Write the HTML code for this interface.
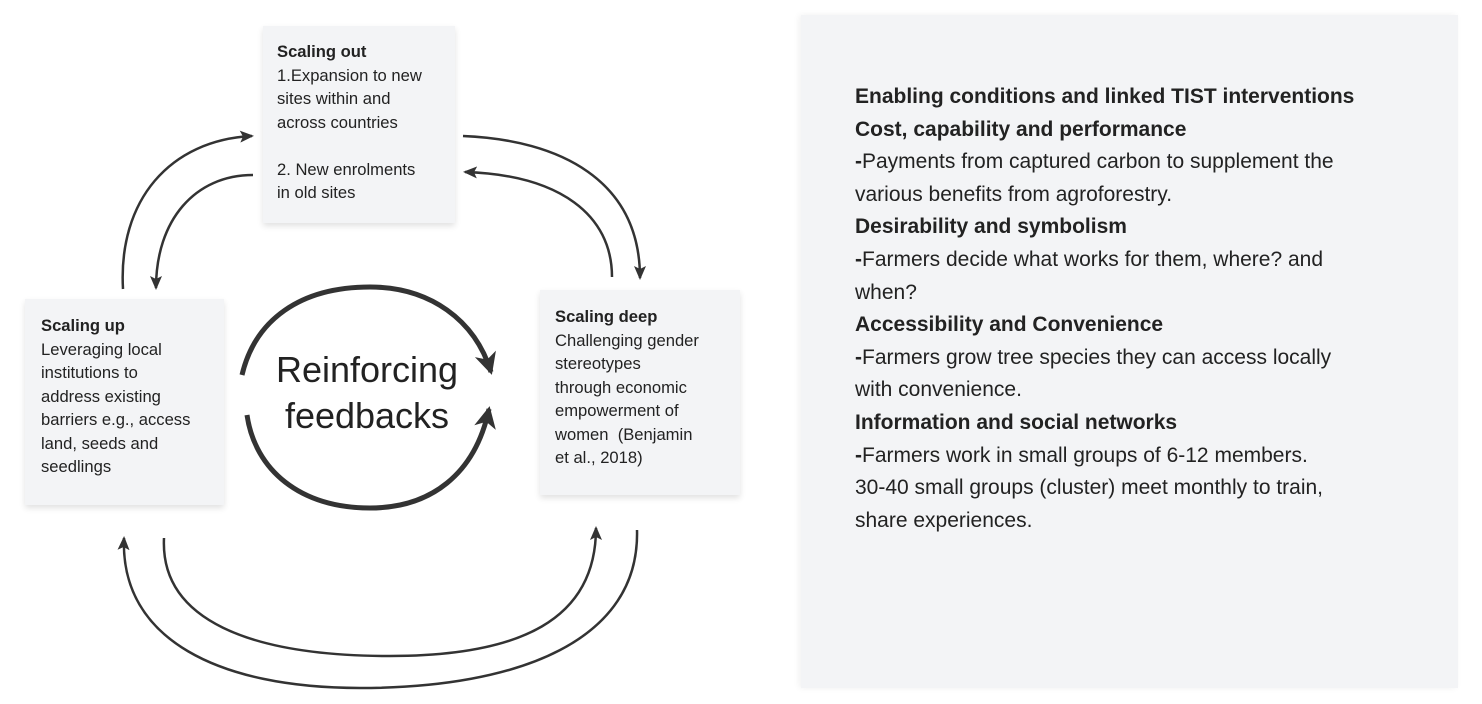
<!DOCTYPE html>
<html><head><meta charset="utf-8"><style>
body{margin:0;width:1482px;height:704px;background:#fff;overflow:hidden;position:relative;font-family:"Liberation Sans",sans-serif;color:#222}
.box{position:absolute;background:#f3f4f6;box-shadow:0 3px 6px rgba(0,0,0,0.12);font-size:16.6px;line-height:23.5px;box-sizing:border-box;white-space:nowrap}
#panel{position:absolute;left:801px;top:15px;width:657px;height:673px;background:#f3f4f6;box-shadow:-2px 0 6px rgba(0,0,0,0.06)}
#ptext{position:absolute;left:855px;top:81px;font-size:21px;line-height:32.6px;color:#222;white-space:nowrap}
svg{position:absolute;left:0;top:0}
</style></head><body>
<div id="panel"></div>
<div id="ptext"><b>Enabling conditions and linked TIST interventions</b><br><b>Cost, capability and performance</b><br><b>-</b>Payments from captured carbon to supplement the<br>various benefits from agroforestry.<br><b>Desirability and symbolism</b><br><b>-</b>Farmers decide what works for them, where? and<br>when?<br><b>Accessibility and Convenience</b><br><b>-</b>Farmers grow tree species they can access locally<br>with convenience.<br><b>Information and social networks</b><br><b>-</b>Farmers work in small groups of 6-12 members.<br>30-40 small groups (cluster) meet monthly to train,<br>share experiences.</div>

<div class="box" style="left:263px;top:26px;width:192px;height:197px;padding:14px 0 0 14px"><b>Scaling out</b><br>1.Expansion to new<br>sites within and<br>across countries<br><br>2. New enrolments<br>in old sites</div>
<div class="box" style="left:25px;top:299px;width:199px;height:206px;padding:15px 0 0 16px"><b>Scaling up</b><br>Leveraging local<br>institutions to<br>address existing<br>barriers e.g., access<br>land, seeds and<br>seedlings</div>
<div class="box" style="left:540px;top:290px;width:200px;height:205px;padding:15px 0 0 15px"><b>Scaling deep</b><br>Challenging gender<br>stereotypes<br>through economic<br>empowerment of<br>women&nbsp; (Benjamin<br>et al., 2018)</div>

<svg width="1482" height="704" viewBox="0 0 1482 704">
<defs>
<marker id="a" markerWidth="14" markerHeight="14" refX="12" refY="7" orient="auto" markerUnits="userSpaceOnUse"><path d="M0,1 L14,7 L0,13 L3,7 Z" fill="#333"/></marker>
<marker id="b" markerWidth="24" markerHeight="24" refX="19" refY="12" orient="auto" markerUnits="userSpaceOnUse"><path d="M0,1 L22,12 L0,23 L6,12 Z" fill="#333"/></marker>
</defs>
<g fill="none" stroke="#333" stroke-width="2.5">
<path d="M123,289 C118,200 170,140 252,136" marker-end="url(#a)"/>
<path d="M253,175 C195,175 156,220 156,288" marker-end="url(#a)"/>
<path d="M463,136 C560,140 640,180 640,278" marker-end="url(#a)"/>
<path d="M612,277 C612,215 560,175 465,172" marker-end="url(#a)"/>
<path d="M164,538 C160,620 250,656 390,656 C520,656 596,620 596,528" marker-end="url(#a)"/>
<path d="M637,530 C640,640 520,688 360,688 C220,688 120,640 124,538" marker-end="url(#a)"/>
</g>
<g fill="none" stroke="#333" stroke-width="5">
<path d="M242,375 C255,320 300,287 370,287 C430,287 475,320 491,372" marker-end="url(#b)"/>
<path d="M247,415 C255,470 300,508 370,508 C430,508 475,475 489,409" marker-end="url(#b)"/>
</g>
<text x="367" y="382" font-size="36" text-anchor="middle" fill="#222" font-family="Liberation Sans, sans-serif">Reinforcing</text>
<text x="367" y="428" font-size="36" text-anchor="middle" fill="#222" font-family="Liberation Sans, sans-serif">feedbacks</text>
</svg>
</body></html>
